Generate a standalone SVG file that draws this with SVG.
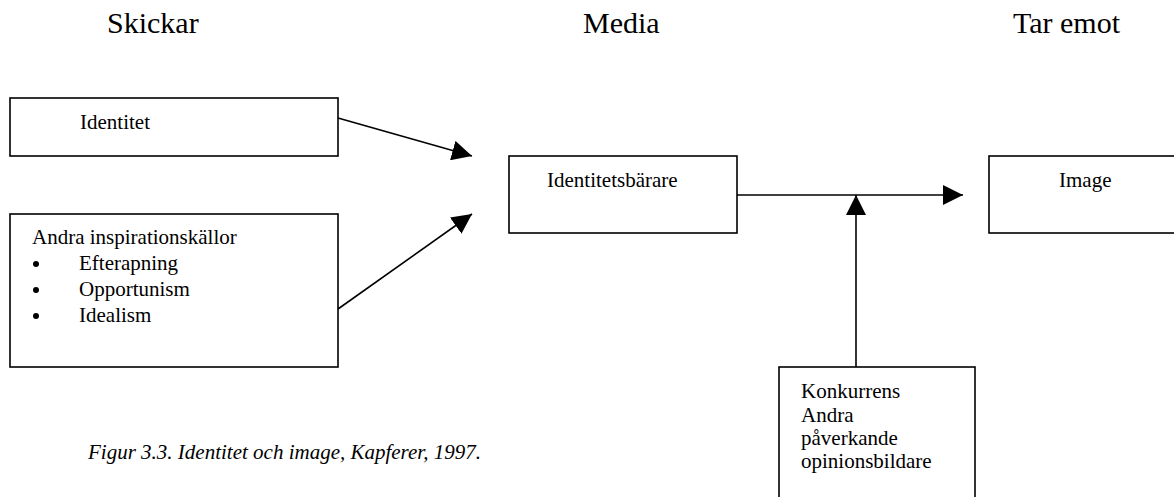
<svg xmlns="http://www.w3.org/2000/svg" width="1174" height="497" viewBox="0 0 1174 497">
<style>
text{font-family:"Liberation Serif","Times New Roman",serif;fill:#000}
.t{font-family:"Liberation Serif","Times New Roman",serif;font-size:30px}
.b{font-family:"Liberation Serif","Times New Roman",serif;font-size:21px}
.cap{font-family:"Liberation Serif","Times New Roman",serif;font-size:21px;font-style:italic}
.box{fill:#fff;stroke:#000;stroke-width:1.6}
.c line{stroke:#000;stroke-width:1.6;marker-end:url(#ah)}
</style>
<defs>
<marker id="ah" markerUnits="userSpaceOnUse" markerWidth="20" markerHeight="20" refX="20" refY="10" orient="auto" viewBox="0 0 20 20">
<path d="M0,0 L20,10 L0,20 z" fill="#000"/>
</marker>
</defs>
<rect x="0" y="0" width="1174" height="497" fill="#fff"/>
<g id="titles">
<text class="t" x="107" y="33">Skickar</text>
<text class="t" x="583" y="33">Media</text>
<text class="t" x="1013" y="33">Tar emot</text>
</g>
<g id="identitet">
<rect class="box" x="10" y="98" width="328" height="58"/>
<text class="b" x="80" y="129">Identitet</text>
</g>
<g id="andra">
<rect class="box" x="10" y="214" width="328" height="153"/>
<text class="b" x="32" y="244">Andra inspirationskällor</text>
<circle cx="36" cy="264" r="3"/>
<circle cx="36" cy="290" r="3"/>
<circle cx="36" cy="316" r="3"/>
<text class="b" x="79" y="270">Efterapning</text>
<text class="b" x="79" y="296">Opportunism</text>
<text class="b" x="79" y="322">Idealism</text>
</g>
<g id="identitetsbarare">
<rect class="box" x="509" y="156" width="228" height="77"/>
<text class="b" x="547" y="187">Identitetsbärare</text>
</g>
<g id="image">
<rect class="box" x="989" y="156" width="200" height="77"/>
<text class="b" x="1059" y="187">Image</text>
</g>
<g id="konkurrens">
<rect class="box" x="779" y="367" width="196" height="150"/>
<text class="b" x="801" y="398">Konkurrens</text>
<text class="b" x="801" y="421.5">Andra</text>
<text class="b" x="801" y="445">påverkande</text>
<text class="b" x="801" y="468">opinionsbildare</text>
</g>
<g class="c" id="connectors">
<line x1="338" y1="118" x2="472" y2="156"/>
<line x1="338" y1="309" x2="472" y2="214"/>
<line x1="737" y1="195" x2="963" y2="195"/>
<line x1="856" y1="367" x2="856" y2="195"/>
</g>
<g id="caption">
<text class="cap" x="88" y="459">Figur 3.3. Identitet och image, Kapferer, 1997.</text>
</g>
</svg>
